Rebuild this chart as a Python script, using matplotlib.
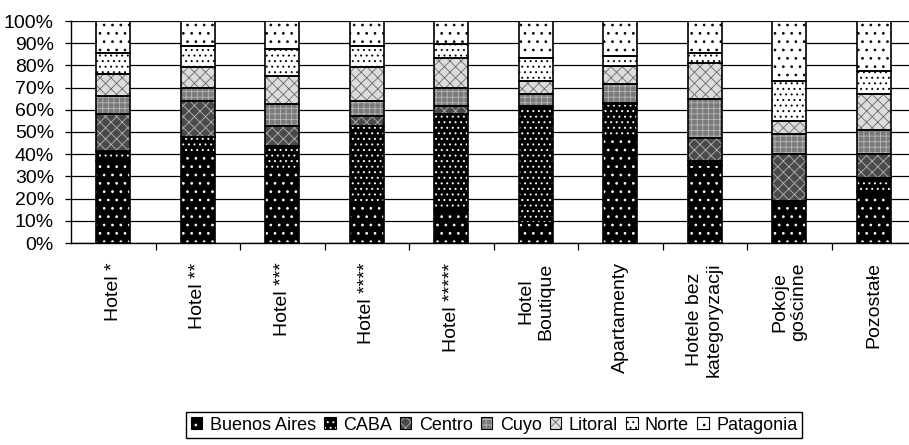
import matplotlib.pyplot as plt
import matplotlib.hatch as mhatch
from matplotlib.patches import Patch
from matplotlib.ticker import FuncFormatter
import numpy as np

plt.rcParams['font.family'] = ['Liberation Sans', 'DejaVu Sans']
plt.rcParams['hatch.linewidth'] = 0.6
# smaller dots for the '.' hatch, closer to the printed texture
mhatch.SmallFilledCircles.size = 0.11

categories = ["Hotel *", "Hotel **", "Hotel ***", "Hotel ****", "Hotel *****",
              "Hotel\nBoutique", "Apartamenty", "Hotele bez\nkategoryzacji",
              "Pokoje\ngościnne", "Pozostałe"]
regions = ["Buenos Aires", "CABA", "Centro", "Cuyo", "Litoral", "Norte", "Patagonia"]

# shares in %, one list per region, in category order
buenos_aires = [37.0, 40.0, 33.4, 18.0, 15.0, 9.0, 48.0, 35.3, 18.8, 22.8]
caba         = [4.5, 7.6, 10.2, 34.6, 43.3, 52.0, 14.4, 1.5, 0.0, 6.5]
centro       = [16.6, 16.5, 9.0, 4.5, 3.3, 0.6, 0.8, 10.6, 21.5, 11.0]
cuyo         = [8.3, 5.7, 9.8, 6.8, 8.0, 5.3, 8.2, 17.3, 8.6, 10.8]
litoral      = [9.9, 9.4, 12.8, 15.5, 13.6, 6.0, 8.3, 16.5, 6.0, 15.8]
norte        = [9.1, 9.7, 12.0, 9.3, 6.3, 10.3, 4.5, 4.5, 18.0, 10.5]
patagonia    = [14.6, 11.1, 12.8, 11.3, 10.5, 16.8, 15.8, 14.3, 27.1, 22.6]

series = [buenos_aires, caba, centro, cuyo, litoral, norte, patagonia]
# face colour, hatch colour, hatch
styles = [('black', 'white', '..'),
          ('black', 'white', '...'),
          ('#4a4a4a', '#b4b4b4', 'xxx'),
          ('#7a7a7a', '#b8b8b8', '+++'),
          ('#dcdcdc', '#6a6a6a', 'xxx'),
          ('white', 'black', '...'),
          ('white', 'black', '..')]

fig = plt.figure(figsize=(9.09, 4.45), dpi=100)
ax = fig.add_axes([71 / 909, 202 / 445, 845 / 909, 222 / 445])

x = np.arange(len(categories))
width = 0.40
bottom = np.zeros(len(categories))
handles = []
for name, vals, (face, hc, hatch) in zip(regions, series, styles):
    vals = np.array(vals)
    ax.bar(x, vals, width, bottom=bottom, color=face, edgecolor=hc,
           hatch=hatch, linewidth=0, zorder=3)
    ax.bar(x, vals, width, bottom=bottom, fill=False, edgecolor='black',
           linewidth=1.2, zorder=4)
    bottom += vals
    handles.append((Patch(facecolor=face, edgecolor=hc, hatch=hatch, linewidth=0),
                    Patch(fill=False, edgecolor='black', linewidth=0.8)))

ax.set_xlim(-0.5, len(categories) - 0.5)
ax.set_ylim(0, 100)
ax.set_yticks(np.arange(0, 101, 10))
ax.yaxis.set_major_formatter(FuncFormatter(lambda v, p: f"{v:.0f}%"))
ax.yaxis.grid(True, color='black', linewidth=0.9, zorder=0)
ax.set_axisbelow(True)

ax.set_xticks(x)
ax.set_xticklabels(categories, rotation=90, ha='center', va='top',
                   multialignment='center')
ax.set_xticks(np.arange(0.5, len(categories) - 0.5, 1), minor=True)
ax.tick_params(axis='x', which='major', length=0, pad=14, labelsize=14)
ax.tick_params(axis='x', which='minor', length=5, width=0.9, direction='out')
ax.tick_params(axis='y', length=4.3, width=0.9, pad=8, labelsize=14)

for side in ['top', 'right']:
    ax.spines[side].set_visible(False)
ax.spines['left'].set_linewidth(1.0)
ax.spines['bottom'].set_linewidth(1.0)

fig.legend(handles, regions, loc='center', bbox_to_anchor=(494 / 909, 1 - 425 / 445),
           ncol=7, fontsize=13, frameon=True, fancybox=False, edgecolor='black',
           handlelength=0.65, handleheight=0.65, handletextpad=0.4,
           columnspacing=0.45, borderpad=0.25, borderaxespad=0, framealpha=1)

fig.savefig("out.png", dpi=100)
